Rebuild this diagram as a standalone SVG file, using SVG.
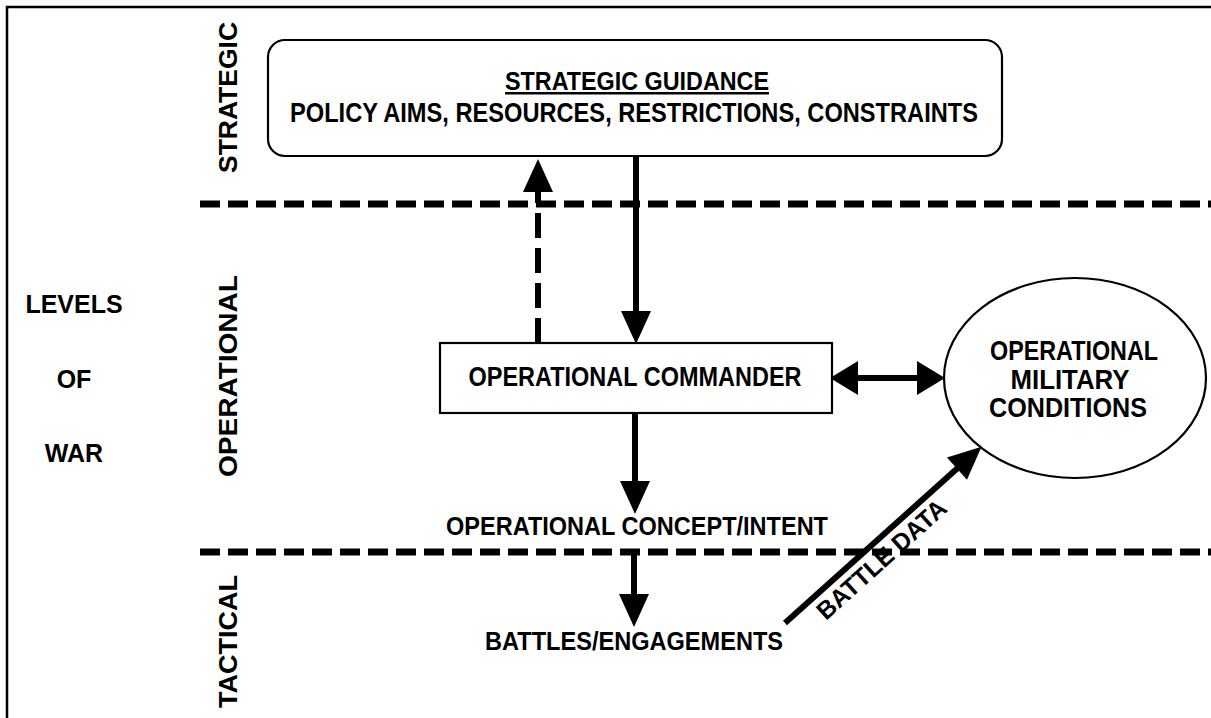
<svg xmlns="http://www.w3.org/2000/svg" width="1211" height="718" viewBox="0 0 1211 718">
<style>
.t{font-family:"Liberation Sans",Arial,sans-serif;font-weight:bold;fill:#000}
.frame{stroke:#000;stroke-width:2.5;fill:none}
.node{fill:#fff;stroke:#000;stroke-width:2.2}
.level{fill:none;stroke:#000;stroke-width:7;stroke-dasharray:20 8}
.conn{fill:none;stroke:#000;stroke-width:6}
</style>
<defs>
<marker id="ah" markerUnits="userSpaceOnUse" markerWidth="32" markerHeight="30" refX="0" refY="15" orient="auto" overflow="visible"><path d="M-1,0 L32,15 L-1,30 Z" fill="#000"/></marker>
<marker id="ahd" markerUnits="userSpaceOnUse" markerWidth="27" markerHeight="34" refX="0" refY="17" orient="auto-start-reverse" overflow="visible"><path d="M-1,0 L27,17 L-1,34 Z" fill="#000"/></marker>
</defs>
<rect width="1211" height="718" fill="#fff"/>
<g id="frame"><path class="frame" d="M7,718 V7 H1211"/></g>
<g id="levels">
<line class="level" x1="200" y1="204" x2="1211" y2="204"/>
<line class="level" x1="200" y1="552" x2="1211" y2="552"/>
<text class="t" font-size="25" text-anchor="middle" x="74" y="313">LEVELS</text>
<text class="t" font-size="25" text-anchor="middle" x="74" y="388">OF</text>
<text class="t" font-size="25" text-anchor="middle" x="74" y="462">WAR</text>
<text class="t" font-size="25" transform="translate(237,173) rotate(-90)" textLength="151" lengthAdjust="spacingAndGlyphs">STRATEGIC</text>
<text class="t" font-size="25" transform="translate(237,477) rotate(-90)" textLength="202" lengthAdjust="spacingAndGlyphs">OPERATIONAL</text>
<text class="t" font-size="25" transform="translate(237,708) rotate(-90)" textLength="133" lengthAdjust="spacingAndGlyphs">TACTICAL</text>
</g>
<g id="connectors">
<path class="conn" d="M538,343 V191" stroke-dasharray="25 10" marker-end="url(#ah)"/>
<path class="conn" d="M636,156 V312" marker-end="url(#ah)"/>
<path class="conn" d="M635,413 V482" marker-end="url(#ah)"/>
<path class="conn" d="M634,555 V595" marker-end="url(#ah)"/>
<path class="conn" stroke-width="7" d="M857,378 H918" marker-start="url(#ahd)" marker-end="url(#ahd)"/>
<path class="conn" stroke-width="7" d="M785,623 L957.7,468" marker-end="url(#ah)"/>
<text class="t" font-size="25" transform="translate(826,621) rotate(-42)" textLength="165" lengthAdjust="spacingAndGlyphs">BATTLE DATA</text>
</g>
<g id="strategic-guidance">
<rect class="node" x="268" y="40" width="734" height="116" rx="17"/>
<text class="t" font-size="25" text-anchor="middle" x="637" y="90" textLength="264" lengthAdjust="spacingAndGlyphs" text-decoration="underline">STRATEGIC GUIDANCE</text>
<text class="t" font-size="28" text-anchor="middle" x="634" y="122" textLength="688" lengthAdjust="spacingAndGlyphs">POLICY AIMS, RESOURCES, RESTRICTIONS, CONSTRAINTS</text>
</g>
<g id="operational-commander">
<rect class="node" x="440" y="343" width="392" height="70"/>
<text class="t" font-size="27" text-anchor="middle" x="635" y="386" textLength="333" lengthAdjust="spacingAndGlyphs">OPERATIONAL COMMANDER</text>
</g>
<g id="operational-military-conditions">
<ellipse class="node" cx="1075" cy="378" rx="131" ry="100"/>
<text class="t" font-size="28" text-anchor="middle" x="1074" y="360" textLength="168" lengthAdjust="spacingAndGlyphs">OPERATIONAL</text>
<text class="t" font-size="28" text-anchor="middle" x="1070" y="389" textLength="119" lengthAdjust="spacingAndGlyphs">MILITARY</text>
<text class="t" font-size="28" text-anchor="middle" x="1068" y="417" textLength="158" lengthAdjust="spacingAndGlyphs">CONDITIONS</text>
</g>
<g id="operational-concept">
<text class="t" font-size="26" text-anchor="middle" x="637" y="535" textLength="382" lengthAdjust="spacingAndGlyphs">OPERATIONAL CONCEPT/INTENT</text>
</g>
<g id="battles-engagements">
<text class="t" font-size="26" text-anchor="middle" x="634" y="650" textLength="298" lengthAdjust="spacingAndGlyphs">BATTLES/ENGAGEMENTS</text>
</g>
</svg>
